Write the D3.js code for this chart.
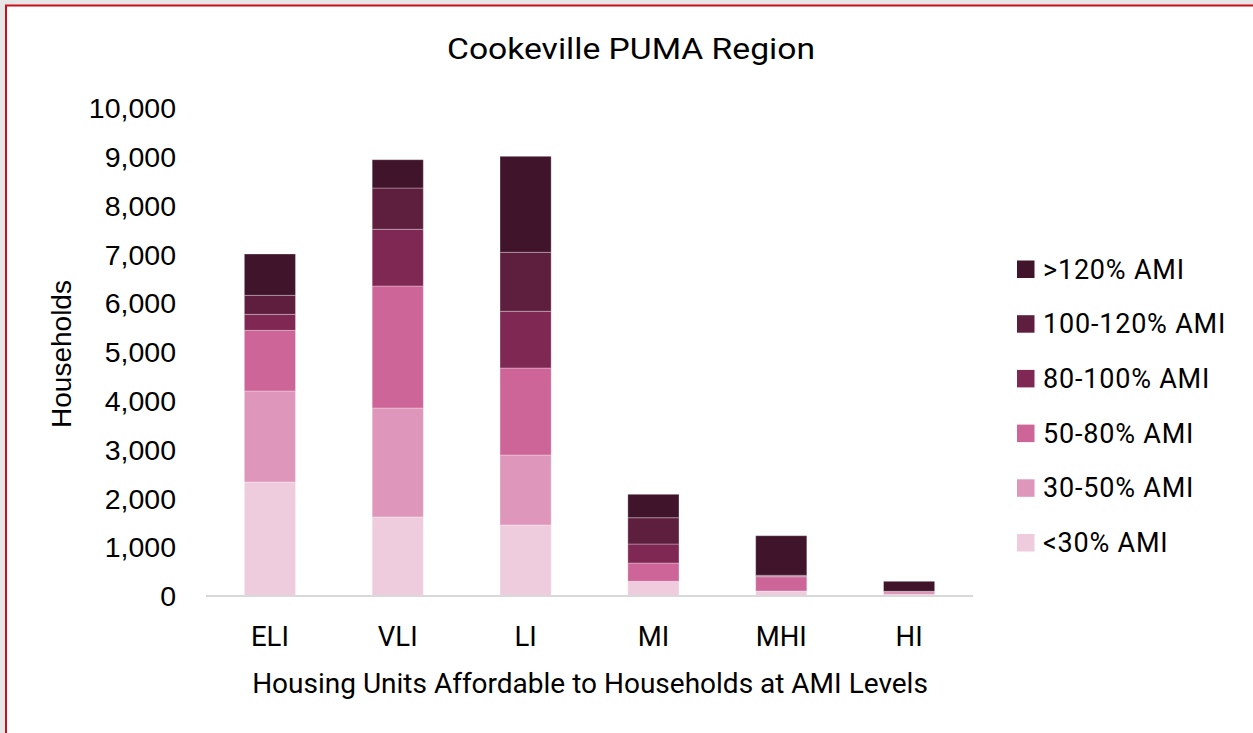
<!DOCTYPE html>
<html><head><meta charset="utf-8">
<script src="https://cdn.jsdelivr.net/npm/d3@7"></script>
<style>
html,body{margin:0;padding:0;background:#e6e6e6;overflow:hidden}
svg{display:block}
</style></head>
<body>
<svg id="chart" width="1253" height="733"></svg>
<script>
const categories = ["ELI","VLI","LI","MI","MHI","HI"];
const seriesNames = ["<30% AMI","30-50% AMI","50-80% AMI","80-100% AMI","100-120% AMI",">120% AMI"];
const lt30   = [2326, 1609, 1445, 291, 92, 20];
const s30_50 = [1865, 2233, 1434, 0, 0, 66];
const s50_80 = [1243, 2500, 1783, 375, 293, 0];
const s80_100 = [328, 1162, 1162, 389, 10, 0];
const s100_120 = [390, 846, 1209, 539, 19, 0];
const gt120  = [846, 580, 1967, 480, 811, 205];
const yTicks = [0,1000,2000,3000,4000,5000,6000,7000,8000,9000,10000];
const colors = ["#efccdd","#de97ba","#cd6598","#7f2853","#5e1f3f","#40142b"];

const seriesValues = [lt30, s30_50, s50_80, s80_100, s100_120, gt120];
const table = categories.map((c,i)=>{
  const row = {cat:c};
  seriesNames.forEach((s,j)=>row[s]=seriesValues[j][i]);
  return row;
});

const svg = d3.select("#chart");
svg.append("rect").attr("x",6).attr("y",5.5).attr("width",1300).attr("height",800)
  .attr("fill","#fff").attr("stroke","#c8101a").attr("stroke-width",2);

const x = d3.scaleBand().domain(categories).range([206,973]).paddingInner(0.6).paddingOuter(0.3);
const y = d3.scaleLinear().domain([0,10000]).range([595.5,107.5]);

const stack = d3.stack().keys(seriesNames)(table);
const color = d3.scaleOrdinal().domain(seriesNames).range(colors);

svg.append("g").selectAll("g").data(stack).join("g")
  .attr("fill",d=>color(d.key))
  .selectAll("rect").data(d=>d).join("rect")
  .attr("x",d=>x(d.data.cat))
  .attr("width",x.bandwidth())
  .attr("y",d=>y(d[1]))
  .attr("height",d=>Math.max(0,y(d[0])-y(d[1])))
  .attr("stroke","#ffffff").attr("stroke-opacity",0.3).attr("stroke-width",1);

svg.append("line").attr("x1",206).attr("x2",973).attr("y1",596).attr("y2",596)
  .attr("stroke","#d9d9d9").attr("stroke-width",2);

const yAxis = d3.axisLeft(y).tickValues(yTicks).tickFormat(d3.format(",")).tickSize(0).tickPadding(0);
const gy = svg.append("g").attr("transform","translate(176,0)").call(yAxis);
gy.select(".domain").remove();
gy.selectAll("text").attr("font-family","'Liberation Sans',Arial,sans-serif").attr("font-size",28.5)
  .attr("fill","#000").attr("dy","0.36em");

const xAxis = d3.axisBottom(x).tickSize(0).tickPadding(0);
const gx = svg.append("g").attr("transform","translate(0,646)").call(xAxis);
gx.select(".domain").remove();
gx.selectAll("text").attr("font-family","Roboto,sans-serif").attr("font-size",27.5)
  .attr("fill","#000").attr("dy",0);

svg.append("text").attr("x",631).attr("y",59).attr("text-anchor","middle")
  .attr("font-family","Roboto,sans-serif").attr("font-size",29.5).attr("fill","#000")
  .attr("textLength",368).attr("lengthAdjust","spacingAndGlyphs")
  .text("Cookeville PUMA Region");

svg.append("text").attr("x",590).attr("y",692.5).attr("text-anchor","middle")
  .attr("font-family","Roboto,sans-serif").attr("font-size",28).attr("fill","#000")
  .text("Housing Units Affordable to Households at AMI Levels");

svg.append("text").attr("transform","translate(70.5,354) rotate(-90)").attr("text-anchor","middle")
  .attr("font-family","'Liberation Sans',Arial,sans-serif").attr("font-size",28).attr("fill","#000")
  .text("Households");

const legendOrder = seriesNames.slice().reverse();
const lg = svg.append("g").selectAll("g").data(legendOrder).join("g")
  .attr("transform",(d,i)=>`translate(1017,${269 + i*54.7})`);
lg.append("rect").attr("x",0).attr("y",-8.5).attr("width",17.5).attr("height",17.5).attr("fill",d=>color(d));
lg.append("text").attr("x",26).attr("y",9.5).attr("font-family","Roboto,sans-serif")
  .attr("font-size",27).attr("letter-spacing",0.8).attr("fill","#000").text(d=>d);
</script>
</body></html>
